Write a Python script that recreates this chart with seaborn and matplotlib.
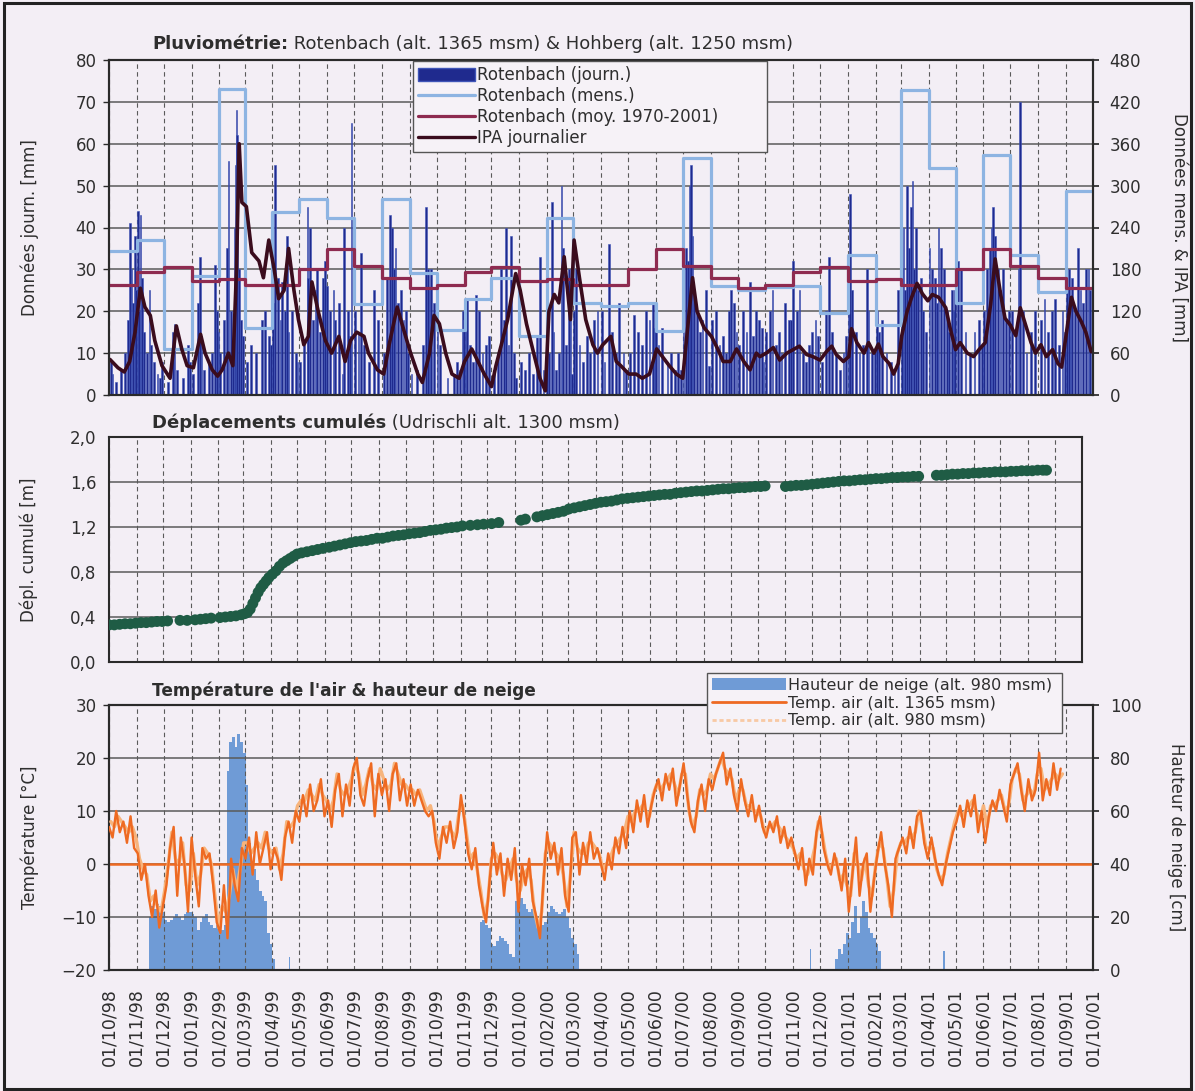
import numpy as np
import pandas as pd
import matplotlib
matplotlib.use("Agg")
import matplotlib.pyplot as plt
import matplotlib.dates as mdates
from matplotlib.patches import Patch, Rectangle
from matplotlib.lines import Line2D
from matplotlib.ticker import FuncFormatter
import seaborn as sns

# ---------------------------------------------------------------- data
# Monthly precipitation Rotenbach (mm), Oct 1998 .. Sep 2001
rain_monthly_mm = [207, 222, 66, 170, 438, 96, 262, 281, 254, 130, 281, 175,
                   93, 138, 168, 84, 254, 132, 127, 132, 92, 340, 156, 150,
                   155, 156, 118, 200, 101, 437, 325, 132, 344, 200, 147, 293]
# Long-term monthly mean 1970-2001 (mm), by calendar month 1..12
rain_mean_by_month = {1: 164, 2: 166, 3: 157, 4: 157, 5: 180, 6: 209,
                      7: 185, 8: 168, 9: 154, 10: 158, 11: 176, 12: 184}

# Daily precipitation events (day, mm) per month
rain_daily_by_month = [
    ('1998-10', [(3, 8), (5, 5), (9, 3), (14, 6), (19, 10), (22, 18), (24, 41), (26, 30), (28, 22), (30, 38), (31, 25)]),
    ('1998-11', [(2, 44), (3, 20), (5, 43), (7, 28), (9, 15), (12, 10), (15, 25), (17, 12), (20, 8), (24, 5), (27, 4), (29, 8)]),
    ('1998-12', [(6, 3), (11, 15), (13, 17), (16, 6), (22, 4), (28, 12), (30, 8)]),
    ('1999-01', [(3, 5), (8, 22), (10, 33), (12, 14), (15, 6), (20, 8), (24, 10), (27, 31), (29, 20), (31, 15)]),
    ('1999-02', [(2, 10), (6, 18), (9, 35), (11, 56), (14, 20), (16, 12), (18, 40), (19, 55), (20, 68), (21, 62), (23, 30), (25, 18), (27, 14)]),
    ('1999-03', [(4, 8), (8, 12), (14, 10), (20, 18), (24, 20), (28, 14), (30, 12)]),
    ('1999-04', [(2, 22), (4, 55), (7, 28), (10, 18), (12, 27), (15, 20), (17, 38), (19, 15), (23, 20), (27, 10), (29, 8)]),
    ('1999-05', [(2, 8), (6, 12), (10, 45), (11, 28), (13, 40), (16, 18), (19, 25), (21, 30), (24, 15), (27, 28), (30, 32)]),
    ('1999-06', [(1, 26), (4, 20), (8, 25), (10, 18), (14, 22), (18, 5), (20, 40), (24, 20), (26, 14), (28, 65)]),
    ('1999-07', [(2, 20), (6, 15), (9, 34), (12, 12), (18, 8), (23, 25), (28, 18)]),
    ('1999-08', [(3, 10), (7, 28), (10, 43), (12, 40), (14, 30), (16, 35), (19, 22), (22, 25), (25, 18), (28, 20), (30, 10)]),
    ('1999-09', [(3, 5), (9, 6), (16, 12), (19, 45), (21, 30), (23, 25), (25, 30), (28, 22)]),
    ('1999-10', [(2, 20), (5, 12), (13, 4), (20, 5), (24, 8), (27, 6), (30, 20), (31, 18)]),
    ('1999-11', [(2, 15), (4, 23), (7, 12), (10, 8), (14, 24), (17, 20), (21, 10), (25, 12), (28, 14)]),
    ('1999-12', [(4, 6), (8, 10), (12, 30), (15, 18), (17, 40), (20, 12), (23, 38), (26, 10), (28, 4)]),
    ('2000-01', [(3, 8), (7, 6), (12, 10), (16, 5), (21, 14), (24, 33), (28, 6)]),
    ('2000-02', [(1, 27), (3, 10), (6, 46), (8, 15), (11, 6), (14, 10), (17, 50), (19, 35), (22, 12), (25, 30), (27, 20), (29, 5)]),
    ('2000-03', [(2, 20), (4, 30), (8, 12), (12, 8), (16, 14), (20, 10), (24, 18), (28, 20)]),
    ('2000-04', [(2, 20), (5, 8), (10, 36), (13, 15), (18, 10), (21, 22), (26, 10), (29, 6)]),
    ('2000-05', [(3, 10), (8, 19), (12, 15), (17, 12), (21, 20), (25, 18), (29, 22), (31, 16)]),
    ('2000-06', [(1, 22), (4, 12), (8, 16), (14, 8), (18, 10), (22, 6), (26, 10), (29, 6)]),
    ('2000-07', [(2, 20), (5, 35), (7, 32), (9, 50), (10, 55), (12, 38), (14, 25), (17, 20), (20, 15), (23, 18), (27, 25), (30, 7)]),
    ('2000-08', [(3, 18), (7, 20), (11, 12), (15, 14), (18, 10), (22, 20), (24, 25), (27, 22), (30, 15)]),
    ('2000-09', [(2, 12), (6, 20), (10, 15), (14, 27), (17, 14), (21, 20), (24, 18), (27, 16), (29, 8)]),
    ('2000-10', [(2, 15), (6, 20), (9, 25), (13, 12), (16, 15), (19, 10), (23, 22), (27, 18), (30, 18)]),
    ('2000-11', [(1, 32), (5, 20), (8, 25), (12, 10), (15, 8), (19, 12), (22, 15), (26, 18), (29, 14)]),
    ('2000-12', [(3, 8), (8, 20), (11, 33), (14, 15), (19, 10), (23, 6), (27, 10), (30, 14)]),
    ('2001-01', [(2, 20), (3, 48), (6, 25), (10, 15), (14, 10), (18, 12), (22, 30), (24, 20), (28, 10), (31, 10)]),
    ('2001-02', [(2, 20), (5, 15), (8, 18), (13, 10), (18, 8), (22, 5), (26, 25)]),
    ('2001-03', [(2, 30), (4, 40), (6, 25), (8, 50), (10, 35), (12, 45), (14, 51), (16, 30), (18, 40), (20, 25), (23, 28), (26, 20), (29, 15)]),
    ('2001-04', [(2, 35), (5, 30), (8, 28), (10, 22), (12, 40), (15, 35), (18, 30), (21, 20), (24, 15), (27, 25), (29, 20), (30, 25)]),
    ('2001-05', [(4, 32), (7, 30), (12, 15), (17, 10), (22, 15), (27, 18), (30, 12)]),
    ('2001-06', [(2, 20), (5, 30), (8, 35), (10, 40), (12, 45), (14, 38), (17, 30), (20, 25), (23, 30), (26, 18), (29, 20)]),
    ('2001-07', [(3, 20), (7, 15), (10, 30), (12, 70), (15, 20), (19, 10), (24, 15), (28, 20)]),
    ('2001-08', [(4, 18), (8, 23), (12, 15), (16, 20), (20, 23), (24, 12), (28, 20), (31, 15)]),
    ('2001-09', [(2, 25), (4, 30), (6, 22), (8, 28), (11, 20), (14, 35), (17, 25), (20, 22), (23, 30), (26, 30), (28, 25)]),
]

# Daily antecedent precipitation index (mm)
ipa_points = [
    ('1998-10-02', 51), ('1998-10-11', 39), ('1998-10-18', 33), ('1998-10-24', 48), ('1998-10-30', 90),
    ('1998-11-05', 153), ('1998-11-10', 126), ('1998-11-16', 114), ('1998-11-21', 78), ('1998-11-29', 42),
    ('1998-12-08', 24), ('1998-12-15', 99), ('1998-12-21', 66), ('1998-12-27', 42), ('1999-01-03', 39),
    ('1999-01-11', 87), ('1999-01-16', 60), ('1999-01-24', 36), ('1999-01-30', 27), ('1999-02-04', 36),
    ('1999-02-11', 60), ('1999-02-16', 42), ('1999-02-20', 180), ('1999-02-23', 360), ('1999-02-26', 276),
    ('1999-03-03', 270), ('1999-03-09', 204), ('1999-03-17', 192), ('1999-03-22', 168), ('1999-03-28', 222),
    ('1999-04-03', 180), ('1999-04-08', 138), ('1999-04-14', 150), ('1999-04-19', 210), ('1999-04-25', 150),
    ('1999-04-30', 108), ('1999-05-06', 72), ('1999-05-11', 84), ('1999-05-15', 162), ('1999-05-22', 120),
    ('1999-05-30', 78), ('1999-06-06', 60), ('1999-06-14', 84), ('1999-06-21', 48), ('1999-06-27', 78),
    ('1999-07-04', 90), ('1999-07-12', 84), ('1999-07-17', 60), ('1999-07-27', 36), ('1999-08-03', 30),
    ('1999-08-09', 72), ('1999-08-18', 126), ('1999-08-26', 90), ('1999-09-02', 60), ('1999-09-10', 30),
    ('1999-09-15', 18), ('1999-09-23', 60), ('1999-09-28', 114), ('1999-10-04', 102), ('1999-10-11', 60),
    ('1999-10-18', 30), ('1999-10-26', 24), ('1999-11-01', 48), ('1999-11-09', 66), ('1999-11-16', 48),
    ('1999-11-23', 30), ('1999-12-01', 12), ('1999-12-06', 42), ('1999-12-12', 72), ('1999-12-19', 108),
    ('1999-12-23', 138), ('1999-12-28', 174), ('2000-01-02', 150), ('2000-01-09', 102), ('2000-01-17', 60),
    ('2000-01-24', 24), ('2000-01-30', 6), ('2000-02-03', 120), ('2000-02-09', 144), ('2000-02-14', 132),
    ('2000-02-20', 198), ('2000-02-27', 108), ('2000-03-02', 222), ('2000-03-08', 168), ('2000-03-15', 108),
    ('2000-03-23', 72), ('2000-03-28', 60), ('2000-04-03', 72), ('2000-04-12', 84), ('2000-04-18', 48),
    ('2000-04-23', 42), ('2000-05-02', 30), ('2000-05-10', 30), ('2000-05-17', 24), ('2000-05-25', 30),
    ('2000-06-02', 66), ('2000-06-09', 54), ('2000-06-16', 42), ('2000-06-24', 30), ('2000-07-01', 24),
    ('2000-07-06', 90), ('2000-07-12', 168), ('2000-07-17', 120), ('2000-07-25', 96), ('2000-08-02', 84),
    ('2000-08-09', 66), ('2000-08-15', 48), ('2000-08-23', 48), ('2000-08-30', 66), ('2000-09-07', 48),
    ('2000-09-14', 36), ('2000-09-21', 60), ('2000-09-25', 55), ('2000-10-02', 60), ('2000-10-10', 68),
    ('2000-10-17', 50), ('2000-10-25', 60), ('2000-11-01', 65), ('2000-11-08', 70), ('2000-11-16', 58),
    ('2000-11-23', 55), ('2000-12-01', 50), ('2000-12-08', 62), ('2000-12-14', 70), ('2000-12-19', 58),
    ('2000-12-27', 48), ('2001-01-02', 55), ('2001-01-05', 95), ('2001-01-11', 75), ('2001-01-19', 60),
    ('2001-01-24', 75), ('2001-01-30', 60), ('2001-02-04', 73), ('2001-02-09', 55), ('2001-02-16', 45),
    ('2001-02-21', 30), ('2001-02-26', 45), ('2001-03-02', 85), ('2001-03-08', 120), ('2001-03-13', 140),
    ('2001-03-19', 160), ('2001-03-25', 145), ('2001-03-31', 135), ('2001-04-05', 144), ('2001-04-12', 140),
    ('2001-04-20', 125), ('2001-04-25', 95), ('2001-05-01', 65), ('2001-05-06', 75), ('2001-05-14', 60),
    ('2001-05-21', 55), ('2001-05-27', 65), ('2001-06-03', 75), ('2001-06-09', 130), ('2001-06-14', 195),
    ('2001-06-20', 145), ('2001-06-25', 110), ('2001-07-01', 100), ('2001-07-07', 85), ('2001-07-12', 125),
    ('2001-07-18', 100), ('2001-07-24', 75), ('2001-07-29', 60), ('2001-08-04', 72), ('2001-08-10', 55),
    ('2001-08-17', 65), ('2001-08-23', 45), ('2001-08-27', 40), ('2001-09-01', 85), ('2001-09-07', 140),
    ('2001-09-12', 120), ('2001-09-18', 105), ('2001-09-23', 90), ('2001-09-29', 62),
]

# Cumulative displacement (m)
disp_points = [
    ('1998-10-01', .33), ('1998-10-07', .33), ('1998-10-13', .335), ('1998-10-19', .34), ('1998-10-25', .34),
    ('1998-10-31', .345), ('1998-11-06', .35), ('1998-11-12', .35), ('1998-11-18', .355), ('1998-11-24', .36),
    ('1998-11-30', .36), ('1998-12-06', .365), ('1998-12-20', .37), ('1998-12-28', .37), ('1999-01-06', .375),
    ('1999-01-12', .38), ('1999-01-18', .385), ('1999-01-24', .39), ('1999-02-03', .395), ('1999-02-09', .40),
    ('1999-02-15', .405), ('1999-02-21', .41), ('1999-02-27', .42), ('1999-03-03', .43), ('1999-03-06', .44),
    ('1999-03-09', .47), ('1999-03-12', .52), ('1999-03-15', .57), ('1999-03-18', .62), ('1999-03-21', .66),
    ('1999-03-24', .69), ('1999-03-27', .72), ('1999-03-30', .75), ('1999-04-03', .78), ('1999-04-07', .81),
    ('1999-04-11', .85), ('1999-04-15', .88), ('1999-04-19', .90), ('1999-04-23', .92), ('1999-04-27', .94),
    ('1999-05-01', .96), ('1999-05-06', .97), ('1999-05-12', .98), ('1999-05-18', .99), ('1999-05-24', 1.00),
    ('1999-05-30', 1.01), ('1999-06-06', 1.02), ('1999-06-12', 1.03), ('1999-06-18', 1.04), ('1999-06-24', 1.05),
    ('1999-06-30', 1.06), ('1999-07-06', 1.07), ('1999-07-12', 1.075), ('1999-07-18', 1.08), ('1999-07-24', 1.09),
    ('1999-07-30', 1.10), ('1999-08-05', 1.10), ('1999-08-11', 1.11), ('1999-08-17', 1.12), ('1999-08-23', 1.125),
    ('1999-08-29', 1.13), ('1999-09-04', 1.14), ('1999-09-10', 1.145), ('1999-09-16', 1.15), ('1999-09-22', 1.16),
    ('1999-09-28', 1.17), ('1999-10-04', 1.175), ('1999-10-10', 1.18), ('1999-10-16', 1.19), ('1999-10-22', 1.195),
    ('1999-10-28', 1.20), ('1999-11-03', 1.21), ('1999-11-12', 1.215), ('1999-11-20', 1.22), ('1999-11-27', 1.225),
    ('1999-12-06', 1.23), ('1999-12-14', 1.24), ('2000-01-08', 1.26), ('2000-01-13', 1.27), ('2000-01-26', 1.29),
    ('2000-02-01', 1.30), ('2000-02-07', 1.31), ('2000-02-13', 1.32), ('2000-02-19', 1.33), ('2000-02-25', 1.34),
    ('2000-03-02', 1.36), ('2000-03-08', 1.37), ('2000-03-14', 1.38), ('2000-03-20', 1.39), ('2000-03-26', 1.40),
    ('2000-04-01', 1.41), ('2000-04-07', 1.42), ('2000-04-13', 1.425), ('2000-04-19', 1.43), ('2000-04-25', 1.44),
    ('2000-05-01', 1.45), ('2000-05-07', 1.455), ('2000-05-13', 1.46), ('2000-05-19', 1.465), ('2000-05-25', 1.47),
    ('2000-05-31', 1.475), ('2000-06-06', 1.48), ('2000-06-12', 1.485), ('2000-06-18', 1.49), ('2000-06-24', 1.49),
    ('2000-06-30', 1.50), ('2000-07-06', 1.505), ('2000-07-12', 1.51), ('2000-07-18', 1.515), ('2000-07-24', 1.52),
    ('2000-07-30', 1.52), ('2000-08-05', 1.525), ('2000-08-11', 1.53), ('2000-08-17', 1.535), ('2000-08-23', 1.54),
    ('2000-08-29', 1.54), ('2000-09-04', 1.545), ('2000-09-10', 1.55), ('2000-09-16', 1.55), ('2000-09-22', 1.555),
    ('2000-09-28', 1.56), ('2000-10-04', 1.56), ('2000-10-09', 1.565), ('2000-11-01', 1.56), ('2000-11-07', 1.565),
    ('2000-11-13', 1.57), ('2000-11-19', 1.57), ('2000-11-25', 1.575), ('2000-12-01', 1.58), ('2000-12-07', 1.585),
    ('2000-12-13', 1.59), ('2000-12-19', 1.595), ('2000-12-25', 1.60), ('2000-12-31', 1.605), ('2001-01-06', 1.61),
    ('2001-01-12', 1.61), ('2001-01-18', 1.615), ('2001-01-24', 1.62), ('2001-01-30', 1.62), ('2001-02-05', 1.625),
    ('2001-02-11', 1.63), ('2001-02-17', 1.63), ('2001-02-23', 1.635), ('2001-03-01', 1.64), ('2001-03-07', 1.64),
    ('2001-03-13', 1.645), ('2001-03-19', 1.645), ('2001-03-25', 1.65), ('2001-03-31', 1.65), ('2001-04-20', 1.66),
    ('2001-04-26', 1.66), ('2001-05-02', 1.665), ('2001-05-08', 1.67), ('2001-05-14', 1.67), ('2001-05-20', 1.675),
    ('2001-05-26', 1.675), ('2001-06-01', 1.68), ('2001-06-07', 1.68), ('2001-06-13', 1.685), ('2001-06-19', 1.685),
    ('2001-06-25', 1.69), ('2001-07-01', 1.69), ('2001-07-07', 1.69), ('2001-07-13', 1.695), ('2001-07-19', 1.695),
    ('2001-07-25', 1.70), ('2001-07-31', 1.70), ('2001-08-06', 1.70), ('2001-08-12', 1.705), ('2001-08-18', 1.705),
    ('2001-08-22', 1.705),
]

# Air temperature (deg C), one reading every 4 days
temp_1365_start = '1998-10-01'
temp_1365 = [
    7, 5, 10, 6, 8, 4, 9, 3,          2, -3, 0, -6, -10, -5, -12, -8,    -4, 3, 7, -6, 5, 0, -9,
    5, -2, -8, 3, 1, 2, -4, -11,      -13, -4, -14, 1, -4, -7, 3,       1, 5, -2, 6, 0, 3, 6, -1,
    3, 1, -3, 5, 8, 4, 10,            8, 13, 9, 15, 10, 12, 16, 9,      12, 7, 14, 17, 9, 15, 11, 18,
    20, 13, 11, 16, 19, 9, 17,        13, 16, 10, 17, 19, 12, 16, 11,   15, 11, 14, 12, 10, 9, 10, 4,
    1, 7, 4, 8, 3, 6, 13,             8, 2, -1, 3, -4, -8, -11, -3,     4, -2, 2, -6, 1, -3, 3, -9,
    0, -4, 1, -7, -10, -14, -3,       6, 1, 4, -2, 3, -6, -9, 5,        6, -2, 4, 0, 6, 1, 3,
    0, -3, 2, -1, 5, 2, 7, 3,         10, 6, 12, 8, 13, 7, 11, 14,      16, 12, 17, 14, 18, 11, 15,
    19, 13, 8, 6, 12, 15, 10, 16,     14, 17, 19, 21, 15, 18, 13, 10,   16, 12, 9, 13, 8, 11, 7,
    5, 8, 6, 9, 4, 7, 3, 5,           2, -1, 3, -4, 1, -2, 6,           9, 3, 0, -2, 2, -1, -5, 1,
    -9, -2, 5, -6, 0, 2, -9, -3,      2, 6, 0, -4, -10, 1, 3,           5, 2, 7, 3, 9, 10, 4, 1,
    5, 1, -2, -4, 0, 3, 6,            8, 11, 7, 12, 9, 13, 6, 10,       4, 9, 12, 10, 14, 11, 8,
    15, 17, 19, 14, 10, 16, 12, 14,   21, 12, 16, 13, 19, 14, 18,
]
temp_980_start = '1998-10-03'
temp_980 = [
    8, 7, 9, 8, 7, 6, 7, 5,           1, -1, -2, -7, -6, -8, -9, -5,    0, 6, 1, 0, 4, -4, -5,
    2, -4, -2, 3, 2, 0, -6, -12,      -8, -9, -6, -1, -5, -1, 4,        4, 2, 3, 4, 3, 6, 3, 2,
    3, -1, 2, 8, 7, 8, 11,            12, 12, 14, 13, 12, 15, 13, 12,   10, 12, 17, 14, 13, 14, 16, 19,
    17, 13, 15, 18, 15, 14, 18,       16, 14, 15, 19, 17, 15, 15, 14,   14, 13, 14, 12, 10, 11, 8, 3,
    5, 7, 7, 6, 5, 10, 11,            6, 1, 2, -1, -5, -10, -7, 1,      2, 1, -2, -3, -1, 1, -3, -5,
    -2, -1, -3, -9, -12, -9, 2,       4, 3, 2, 1, -2, -8, -2, 6,        3, 2, 2, 4, 4, 3, 2,
    -1, 0, 1, 3, 4, 5, 6, 9,          8, 10, 10, 11, 10, 9, 13, 15,     14, 15, 16, 17, 15, 13, 17,
    17, 10, 7, 9, 14, 13, 14, 17,     16, 18, 20, 18, 17, 16, 12, 14,   14, 11, 11, 10, 10, 9, 6,
    7, 7, 8, 7, 6, 5, 4, 3,           1, 2, -1, -2, 0, 3, 8,            6, 2, -1, 0, 1, -3, -2, -4,
    -6, 2, 0, -3, 1, -4, -6, 0,       4, 3, -2, -8, -5, 2, 4,           4, 5, 5, 6, 10, 7, 3, 3,
    3, -1, -3, -2, 2, 5, 8,           10, 9, 10, 11, 12, 10, 8, 11,     7, 11, 11, 12, 13, 10, 11,
    16, 18, 17, 12, 13, 14, 13, 17,   18, 14, 15, 16, 17, 16, 17,
]

# Snow height at 980 msm (cm), one reading every 3 days within each winter
snow_9899_start = '1998-11-14'
snow_9899 = [20, 24, 23, 25, 24, 22, 19, 18, 19, 20, 21, 20, 19, 21, 22, 22,
             21, 20, 15, 18, 20, 21, 18, 17, 16, 17, 16, 15, 17, 75, 86, 88,
             84, 89, 86, 82, 70, 48, 40, 38, 34, 30, 28, 26, 14, 10, 4]
snow_9900_start = '1999-11-18'
snow_9900 = [18, 19, 17, 16, 10, 9, 11, 13, 12, 11, 10, 6, 5, 26, 28, 27, 25,
             23, 22, 23, 20, 19, 18, 17, 18, 22, 24, 23, 22, 21, 22, 23, 20,
             16, 12, 10, 6]
snow_0001_start = '2000-12-18'
snow_0001 = [4, 8, 6, 10, 14, 12, 18, 24, 14, 20, 26, 22, 16, 14, 12, 10, 7]
snow_isolated = [('1999-04-20', 5), ('2000-11-20', 8), ('2001-04-18', 7)]

tick_labels_fmt = '%d/%m/%y'

# ---------------------------------------------------------------- style
sns.set_theme(style='white')
plt.rcParams['font.family'] = ['DejaVu Sans']
BG = '#f3eef5'
TXT = '#2e2e2e'
GRID = '#5a5a5a'
C_DAY = '#1f2a8e'
C_MENS = '#8db4e2'
C_MOY = '#8e2b50'
C_IPA = '#3a0c1d'
C_DISP = '#1f5c45'
C_T1 = '#ee6a22'
C_T2 = '#f7b47c'
C_SNOW = '#6f9bd6'
FS = 12
FS_TITLE = 13

W, H = 1195, 1091
fig = plt.figure(figsize=(W / 100, H / 100), dpi=100, facecolor=BG)


def rect(l, t, r, b):
    return [l / W, 1 - b / H, (r - l) / W, (b - t) / H]


ax1 = fig.add_axes(rect(109, 60, 1093, 395))
ax2 = fig.add_axes(rect(109, 437, 1082, 662))
ax3 = fig.add_axes(rect(109, 705, 1093, 970))

x0, x1 = pd.Timestamp('1998-10-01'), pd.Timestamp('2001-10-01')
month_ticks = pd.date_range(x0, x1, freq='MS')


def base_style(ax, show_x=False):
    ax.set_facecolor(BG)
    ax.set_xlim(x0, x1)
    ax.set_xticks(month_ticks)
    ax.grid(axis='x', color=GRID, lw=0.8, ls=(0, (4, 3)))
    ax.grid(axis='y', color=GRID, lw=1.1, ls='-')
    for s in ax.spines.values():
        s.set_color('#2a2a2a')
        s.set_linewidth(1.5)
    ax.tick_params(axis='y', which='both', direction='out', length=4, width=1,
                   colors='#2a2a2a', labelsize=FS, labelcolor=TXT, pad=5)
    if show_x:
        ax.xaxis.set_major_formatter(mdates.DateFormatter(tick_labels_fmt))
        ax.tick_params(axis='x', direction='out', length=4, labelsize=12.5,
                       labelcolor=TXT, labelrotation=90, pad=9)
    else:
        ax.tick_params(axis='x', length=0, labelbottom=False)
    ax.set_axisbelow(True)


def title(ax, y, bold, rest, size=FS_TITLE):
    t = ax.text(0.0437, y, bold, transform=ax.transAxes, fontsize=size,
                fontweight='bold', color=TXT, ha='left', va='bottom')
    if rest:
        ax.annotate(rest, xy=(1, 0), xycoords=t, fontsize=size, color=TXT,
                    ha='left', va='bottom')


def legend_box(ax, handles, labels, x, y, w, hlen, fs):
    leg = ax.legend(handles, labels, loc='upper left', mode='expand',
                    bbox_to_anchor=(x, y - 0.2, w, 0.2),
                    fontsize=fs, frameon=True, fancybox=False, framealpha=1,
                    facecolor='#f6f2f7', edgecolor='#555555', handlelength=hlen,
                    handleheight=0.8, labelspacing=0.18, borderpad=0.3,
                    handletextpad=0.15, borderaxespad=0)
    for t in leg.get_texts():
        t.set_color(TXT)
    leg.get_frame().set_linewidth(1.0)
    leg.set_zorder(10)
    return leg


# ---------------------------------------------------------------- panel 1
base_style(ax1)
ax1.set_ylim(0, 80)
ax1.set_yticks(np.arange(0, 81, 10))
rain_dates, rain_vals = [], []
for ym, events in rain_daily_by_month:
    for d, v in events:
        rain_dates.append(pd.Timestamp(f'{ym}-{d:02d}'))
        rain_vals.append(v)
ax1.bar(rain_dates, rain_vals, width=2.0, color=C_DAY, edgecolor='#3f55b8',
        linewidth=0.4, zorder=2)

ax1r = ax1.twinx()
ax1r.set_ylim(0, 480)
ax1r.set_yticks(np.arange(0, 481, 60))
ax1r.set_xlim(x0, x1)
ax1r.tick_params(axis='y', direction='out', length=4, colors='#2a2a2a',
                 labelsize=FS, labelcolor=TXT, pad=8)
for s in ax1r.spines.values():
    s.set_color('#2a2a2a')
    s.set_linewidth(1.5)
months = pd.date_range(x0, periods=len(rain_monthly_mm), freq='MS')
step_x = list(months) + [x1]
mens_df = pd.DataFrame({'date': step_x, 'mm': rain_monthly_mm + [rain_monthly_mm[-1]]})
moy_vals = [rain_mean_by_month[m.month] for m in months]
moy_df = pd.DataFrame({'date': step_x, 'mm': moy_vals + [moy_vals[-1]]})
sns.lineplot(data=mens_df, x='date', y='mm', ax=ax1r, color=C_MENS, lw=2.3,
             drawstyle='steps-post', legend=False)
sns.lineplot(data=moy_df, x='date', y='mm', ax=ax1r, color=C_MOY, lw=2.3,
             drawstyle='steps-post', legend=False)
ipa_df = pd.DataFrame(ipa_points, columns=['date', 'mm'])
ipa_df['date'] = pd.to_datetime(ipa_df['date'])
sns.lineplot(data=ipa_df, x='date', y='mm', ax=ax1r, color=C_IPA, lw=2.6,
             legend=False)
ax1r.set_xlabel('')
ax1.set_ylabel('Données journ. [mm]', fontsize=FS, color=TXT)
ax1.yaxis.set_label_coords(-0.071, 0.5)
ax1r.set_ylabel('Données mens. & IPA [mm]', fontsize=FS, color=TXT, rotation=270)
ax1r.yaxis.set_label_coords(1.097, 0.5)
title(ax1, 1.022, 'Pluviométrie:', ' Rotenbach (alt. 1365 msm) & Hohberg (alt. 1250 msm)')
h1 = [Patch(facecolor=C_DAY, edgecolor='#3f55b8'),
      Line2D([], [], color=C_MENS, lw=2.3),
      Line2D([], [], color=C_MOY, lw=2.3),
      Line2D([], [], color=C_IPA, lw=2.4)]
l1 = ['Rotenbach (journ.)', 'Rotenbach (mens.)', 'Rotenbach (moy. 1970-2001)', 'IPA journalier']
legend_box(ax1r, h1, l1, 0.309, 0.997, 0.360, 3.4, 12)

# ---------------------------------------------------------------- panel 2
base_style(ax2)
ax2.set_ylim(0, 2.0)
ax2.set_yticks(np.arange(0, 2.01, 0.4))
ax2.yaxis.set_major_formatter(FuncFormatter(lambda v, p: f'{v:.1f}'.replace('.', ',')))
disp_df = pd.DataFrame(disp_points, columns=['date', 'm'])
disp_df['date'] = pd.to_datetime(disp_df['date'])
sns.scatterplot(data=disp_df, x='date', y='m', ax=ax2, color=C_DISP, s=62,
                marker='o', edgecolor='none', legend=False, zorder=3)
ax2.set_xlabel('')
ax2.set_ylabel('Dépl. cumulé [m]', fontsize=FS, color=TXT)
ax2.yaxis.set_label_coords(-0.073, 0.5)
title(ax2, 1.022, 'Déplacements cumulés', ' (Udrischli alt. 1300 msm)')

# ---------------------------------------------------------------- panel 3
base_style(ax3, show_x=True)
ax3.set_ylim(-20, 30)
ax3.set_yticks(np.arange(-20, 31, 10))
ax3s = ax3.twinx()
ax3s.set_zorder(ax3.get_zorder() - 1)
ax3.patch.set_visible(False)
ax3s.patch.set_visible(True)
ax3s.patch.set_facecolor(BG)
ax3s.set_ylim(0, 100)
ax3s.set_yticks(np.arange(0, 101, 20))
ax3s.set_xlim(x0, x1)
ax3s.tick_params(axis='y', direction='out', length=4, colors='#2a2a2a',
                 labelsize=FS, labelcolor=TXT, pad=8)
for s in ax3s.spines.values():
    s.set_color('#2a2a2a')
    s.set_linewidth(1.5)

for start, vals in [(snow_9899_start, snow_9899), (snow_9900_start, snow_9900),
                    (snow_0001_start, snow_0001)]:
    dts = pd.date_range(start, periods=len(vals), freq='3D')
    ax3s.bar(dts, vals, width=3.05, align='edge', color=C_SNOW, linewidth=0)
ax3s.bar([pd.Timestamp(d) for d, _ in snow_isolated], [v for _, v in snow_isolated],
         width=1.2, color=C_SNOW, linewidth=0)

ax3.axhline(0, color=C_T1, lw=1.8, zorder=2)
t2_df = pd.DataFrame({'date': pd.date_range(temp_980_start, periods=len(temp_980), freq='4D'),
                      'T': temp_980})
t1_df = pd.DataFrame({'date': pd.date_range(temp_1365_start, periods=len(temp_1365), freq='4D'),
                      'T': temp_1365})
sns.lineplot(data=t2_df, x='date', y='T', ax=ax3, color=C_T2, lw=2.4, legend=False, zorder=3)
sns.lineplot(data=t1_df, x='date', y='T', ax=ax3, color=C_T1, lw=1.7, legend=False, zorder=4)
ax3.set_xlabel('')
ax3.set_ylabel('Température [°C]', fontsize=FS, color=TXT)
ax3.yaxis.set_label_coords(-0.071, 0.5)
ax3s.set_ylabel('Hauteur de neige [cm]', fontsize=FS, color=TXT, rotation=270)
ax3s.yaxis.set_label_coords(1.093, 0.5)
title(ax3, 1.02, "Température de l'air & hauteur de neige", '', size=12.2)
h3 = [Patch(facecolor=C_SNOW, edgecolor='none'),
      Line2D([], [], color=C_T1, lw=2.0),
      Line2D([], [], color='#f8c9a4', lw=2.0, ls=(0, (1.5, 1)))]
l3 = ['Hauteur de neige (alt. 980 msm)', 'Temp. air (alt. 1365 msm)', 'Temp. air (alt. 980 msm)']
legend_box(ax3, h3, l3, 0.608, 1.121, 0.361, 4.6, 11.5)

# outer frame
fig.patches.append(Rectangle((0.003, 0.002), 0.994, 0.995, transform=fig.transFigure,
                             fill=False, lw=2.2, edgecolor='#222222'))

fig.savefig('out.png', dpi=100, facecolor=BG)
